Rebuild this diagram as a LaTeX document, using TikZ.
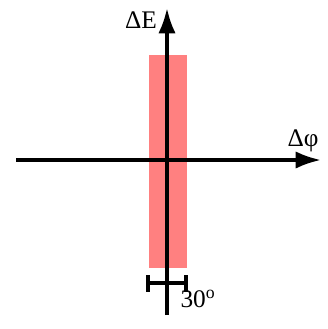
\documentclass[tikz,border=0pt]{standalone}
\usepackage{fontspec}
\setmainfont{Liberation Serif}
\usetikzlibrary{arrows.meta}
\begin{document}
\begin{tikzpicture}[x=0.75pt,y=-0.75pt,font=\fontsize{19}{22}\selectfont]

\useasboundingbox (0,0) rectangle (328,329);

\fill[red!50] (149,55) rectangle (187,268);

\draw[-{Latex[length=19pt,width=13pt]},line width=2.6pt] (16,160) -- (321,160);
\draw[-{Latex[length=19pt,width=13pt]},line width=2.6pt] (167,315) -- (167,8);

\node (dE) at (141,20) {ΔE};
\node (dphi) at (303,141) {Δφ};

\draw[line width=2.4pt] (148,275) -- (148,292);
\draw[line width=2.4pt] (186,275) -- (186,292);
\draw[line width=2.4pt] (148,283) -- (186,283);

\node (ang) at (198,299) {30\textsuperscript{o}};

\end{tikzpicture}
\end{document}
